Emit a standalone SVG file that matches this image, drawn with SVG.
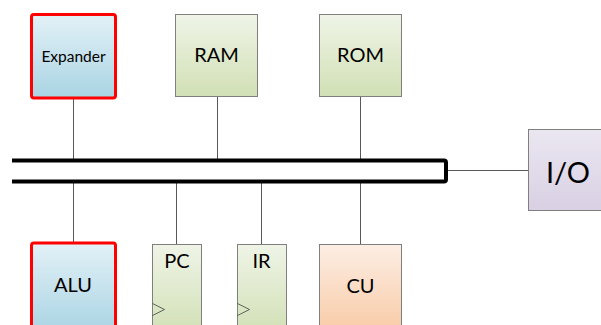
<svg xmlns="http://www.w3.org/2000/svg" width="601" height="325" viewBox="0 0 601 325">
  <defs>
    <linearGradient id="gBlue" x1="0" y1="0" x2="0" y2="1">
      <stop offset="0" stop-color="#e3f1f7"/>
      <stop offset="1" stop-color="#a9d4e3"/>
    </linearGradient>
    <linearGradient id="gGreen" x1="0" y1="0" x2="0" y2="1">
      <stop offset="0" stop-color="#eff4e7"/>
      <stop offset="1" stop-color="#d1e0b5"/>
    </linearGradient>
    <linearGradient id="gPurple" x1="0" y1="0" x2="0" y2="1">
      <stop offset="0" stop-color="#ebe7f1"/>
      <stop offset="1" stop-color="#d8d0e3"/>
    </linearGradient>
    <linearGradient id="gPeach" x1="0" y1="0" x2="0" y2="1">
      <stop offset="0" stop-color="#fdeee4"/>
      <stop offset="1" stop-color="#f8caa5"/>
    </linearGradient>
  </defs>
  <style>
    .box { stroke: #7f7f7f; stroke-width: 1; }
    .hot { stroke: #ff0000; stroke-width: 3; }
    .wire { stroke: #595959; stroke-width: 1; fill: none; }
    .bus { stroke: #000000; stroke-width: 4; fill: none; stroke-linejoin: round; }
    .clk { stroke: #404040; stroke-width: 0.8; fill: none; }
    text { font-family: Lato, "Liberation Sans", sans-serif; fill: #000000; text-anchor: middle; }
  </style>
  <rect width="601" height="325" fill="#ffffff"/>

  <!-- connectors -->
  <g id="connectors">
    <line class="wire" x1="73.5" y1="99" x2="73.5" y2="160"/>
    <line class="wire" x1="217.5" y1="97" x2="217.5" y2="160"/>
    <line class="wire" x1="360.5" y1="97" x2="360.5" y2="160"/>
    <line class="wire" x1="73.5" y1="181" x2="73.5" y2="242"/>
    <line class="wire" x1="176.5" y1="181" x2="176.5" y2="244"/>
    <line class="wire" x1="261.5" y1="181" x2="261.5" y2="244"/>
    <line class="wire" x1="360.5" y1="181" x2="360.5" y2="244"/>
    <line class="wire" x1="446" y1="170.5" x2="528" y2="170.5"/>
  </g>

  <!-- system bus -->
  <g id="bus">
    <path class="bus" d="M12 160.5 H444 Q446 160.5 446 162.5 V179.5 Q446 181.5 444 181.5 H12"/>
  </g>

  <g id="expander">
    <rect class="hot" x="31.5" y="14.5" width="84" height="83.5" rx="2.5" fill="url(#gBlue)"/>
    <text x="73.5" y="61.5" font-size="15.5">Expander</text>
  </g>

  <g id="ram">
    <rect class="box" x="175.5" y="14.5" width="82" height="82" fill="url(#gGreen)"/>
    <text x="216.5" y="62" font-size="20">RAM</text>
  </g>

  <g id="rom">
    <rect class="box" x="319.5" y="14.5" width="82" height="82" fill="url(#gGreen)"/>
    <text x="360.5" y="62" font-size="20">ROM</text>
  </g>

  <g id="io">
    <rect class="box" x="528.5" y="129.5" width="84" height="81" fill="url(#gPurple)"/>
    <text x="568" y="183" font-size="29">I/O</text>
  </g>

  <g id="alu">
    <rect class="hot" x="31.5" y="243" width="84" height="90" rx="2.5" fill="url(#gBlue)"/>
    <text x="73" y="291.5" font-size="20">ALU</text>
  </g>

  <g id="pc">
    <rect class="box" x="152.5" y="244.5" width="49" height="90" fill="url(#gGreen)"/>
    <polyline class="clk" points="152.5,303.5 164.5,309.5 152.5,315.5"/>
    <text x="177" y="268" font-size="20">PC</text>
  </g>

  <g id="ir">
    <rect class="box" x="237.5" y="244.5" width="49" height="90" fill="url(#gGreen)"/>
    <polyline class="clk" points="237.5,303.5 249.5,309.5 237.5,315.5"/>
    <text x="261.5" y="268" font-size="20">IR</text>
  </g>

  <g id="cu">
    <rect class="box" x="319.5" y="244.5" width="82" height="90" fill="url(#gPeach)"/>
    <text x="360.5" y="293" font-size="20">CU</text>
  </g>
</svg>
